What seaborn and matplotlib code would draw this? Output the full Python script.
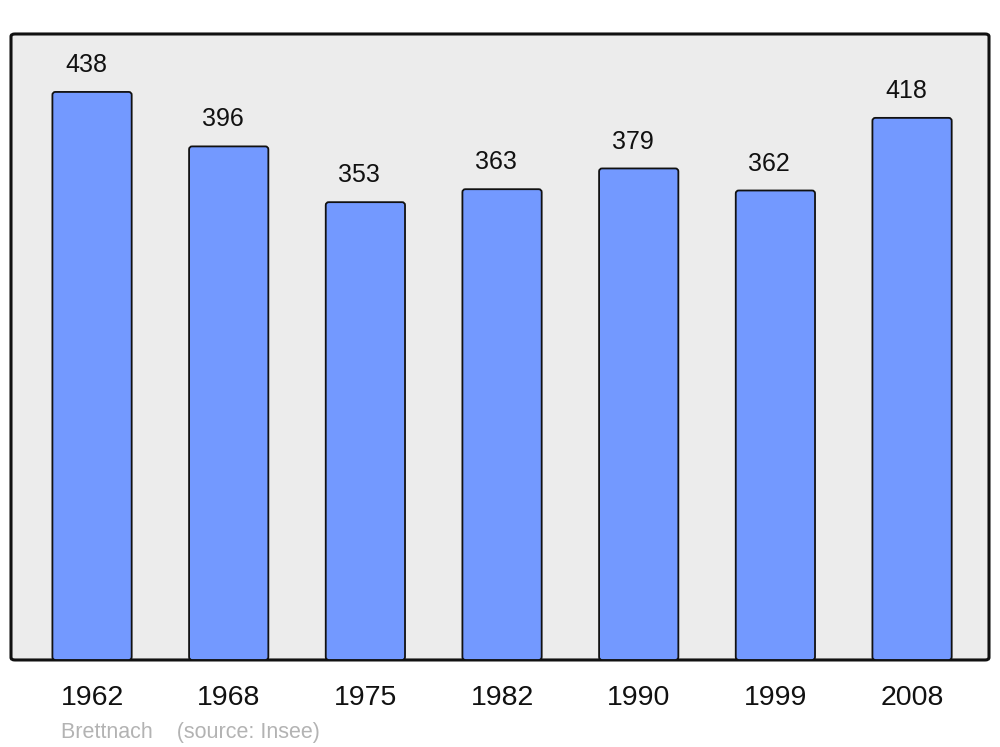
import matplotlib
matplotlib.use("Agg")
import matplotlib.pyplot as plt
import seaborn as sns
import pandas as pd
from matplotlib.patches import FancyBboxPatch

years = ["1962", "1968", "1975", "1982", "1990", "1999", "2008"]
population = [438, 396, 353, 363, 379, 362, 418]
commune = "Brettnach"
source = "(source: Insee)"

sns.set_theme(style="white")
plt.rcParams['font.family'] = ['Liberation Sans', 'DejaVu Sans']

df = pd.DataFrame({"year": years, "pop": population})

fig = plt.figure(figsize=(10, 7.47), dpi=100)
ax = fig.add_axes([0.011, 0.1165, 0.978, 0.838])
ax.set_facecolor("none")

# rounded frame background
frame = FancyBboxPatch((0, 0), 1, 1, boxstyle="round,pad=0,rounding_size=0.004",
                       transform=ax.transAxes, facecolor="#ececec", edgecolor="#111111",
                       linewidth=2.2, zorder=0, clip_on=False)
ax.add_patch(frame)

sns.barplot(data=df, x="year", y="pop", ax=ax, color="#7399ff", width=0.58,
            edgecolor="#111111", linewidth=1.3, saturation=1, zorder=2)

# give the seaborn bars slightly rounded corners
for p in list(ax.patches):
    if p is frame:
        continue
    x0, y0 = p.get_x(), p.get_y()
    w, h = p.get_width(), p.get_height()
    rb = FancyBboxPatch((x0, y0), w, h, boxstyle="round,pad=0,rounding_size=0.022",
                        mutation_aspect=105, facecolor=p.get_facecolor(),
                        edgecolor="#111111", linewidth=1.3, zorder=2)
    p.set_visible(False)
    ax.add_patch(rb)

for i, v in enumerate(population):
    ax.text(i - 0.044, v + 11.5, str(v), ha="center", va="bottom", fontsize=18, color="#111111")

ax.set_xlim(-0.593, 6.563)
ax.set_ylim(0, 438 * 1.102)
ax.set_yticks([])
ax.set_xlabel("")
ax.set_ylabel("")
ax.tick_params(axis="x", length=0, labelsize=20.5, pad=18, colors="#111111")
for s in ax.spines.values():
    s.set_visible(False)

fig.text(0.061, 0.0195, commune + "    " + source, fontsize=15.5, color="#b3b3b3", ha="left", va="center")

fig.savefig("out.png", dpi=100)
